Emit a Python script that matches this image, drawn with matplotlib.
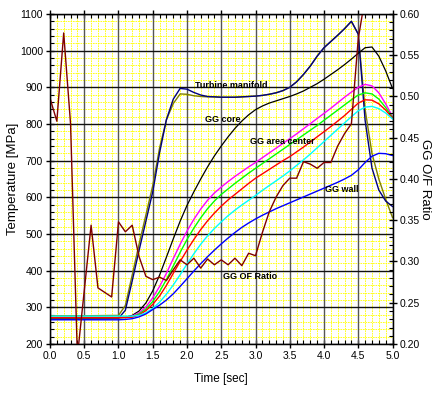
import matplotlib
matplotlib.use("Agg")
import matplotlib.pyplot as plt
from matplotlib.ticker import MultipleLocator

plt.rcParams["font.family"] = ["Liberation Sans", "DejaVu Sans"]

# time grid for the temperature curves [sec]
time = [0.0, 0.5, 1.0, 1.1, 1.2, 1.3, 1.4, 1.5, 1.6, 1.7, 1.8, 1.9,
        2.0, 2.1, 2.2, 2.3, 2.4, 2.5, 2.6, 2.7, 2.8, 2.9,
        3.0, 3.1, 3.2, 3.3, 3.4, 3.5, 3.6, 3.7, 3.8, 3.9,
        4.0, 4.1, 4.2, 4.3, 4.4, 4.5, 4.6, 4.7, 4.8, 4.9, 5.0]

turbine_manifold = [268, 268, 270, 292, 372, 455, 535, 615, 722, 812, 868, 897,
                    895, 886, 879, 875, 874, 873, 873, 873, 874, 875,
                    876, 878, 881, 885, 891, 900, 915, 935, 958, 985,
                    1008, 1025, 1042, 1060, 1080, 1045, 810, 680, 620, 590, 575]
turbine_inlet = [277, 277, 278, 305, 388, 472, 552, 632, 735, 812, 856, 882,
                 881, 877, 875, 874, 874, 873, 873, 873, 874, 875,
                 876, 878, 881, 885, 891, 900, 915, 935, 958, 985,
                 1008, 1025, 1042, 1060, 1080, 1045, 840, 720, 650, 595, 545]
gg_core = [270, 270, 271, 273, 278, 290, 312, 345, 388, 437, 487, 535,
           578, 615, 650, 683, 713, 740, 765, 788, 808, 825,
           839, 849, 857, 863, 869, 875, 882, 890, 900, 910,
           922, 935, 948, 962, 977, 993, 1008, 1010, 985, 945, 897]
gg_magenta = [272, 272, 272, 273, 276, 285, 301, 326, 357, 393, 433, 472,
              508, 540, 568, 592, 612, 628, 643, 657, 670, 683,
              695, 708, 721, 734, 747, 760, 773, 787, 801, 815,
              829, 843, 858, 873, 887, 900, 908, 904, 885, 855, 820]
gg_green = [272, 272, 272, 272, 274, 282, 295, 316, 343, 376, 413, 450,
            485, 516, 544, 569, 590, 608, 623, 638, 652, 666,
            679, 692, 705, 718, 731, 744, 757, 770, 783, 796,
            810, 824, 838, 852, 866, 879, 885, 882, 868, 845, 818]
gg_red = [272, 272, 272, 272, 273, 279, 291, 308, 331, 360, 393, 425,
          456, 485, 512, 536, 557, 576, 593, 608, 623, 638,
          652, 664, 676, 688, 700, 711, 724, 737, 751, 765,
          779, 793, 808, 823, 840, 857, 866, 865, 855, 838, 816]
gg_cyan = [276, 276, 276, 276, 276, 278, 285, 297, 314, 336, 361, 389,
           418, 446, 472, 495, 515, 533, 550, 565, 579, 592,
           605, 619, 632, 645, 658, 672, 687, 702, 718, 735,
           752, 769, 786, 803, 820, 836, 846, 848, 842, 830, 814]
gg_wall = [266, 266, 266, 267, 269, 274, 282, 294, 306, 320, 337, 357,
           378, 399, 419, 438, 456, 473, 489, 504, 518, 530,
           541, 551, 560, 569, 577, 585, 593, 601, 609, 617,
           625, 633, 641, 650, 660, 675, 695, 712, 720, 719, 714]

# GG O/F ratio (right axis)
ratio_time = [0.0, 0.1, 0.2, 0.3, 0.4, 0.6, 0.7, 0.9, 1.0, 1.1, 1.2, 1.3,
              1.4, 1.5, 1.6, 1.7, 1.8, 1.9, 2.0, 2.1, 2.2, 2.3, 2.4, 2.5,
              2.6, 2.7, 2.8, 2.9, 3.0, 3.1, 3.2, 3.3, 3.4, 3.5, 3.6, 3.7,
              3.8, 3.9, 4.0, 4.1, 4.2, 4.3, 4.4, 4.5, 4.6]
of_ratio = [0.498, 0.470, 0.577, 0.467, 0.185, 0.344, 0.268, 0.257, 0.348,
            0.336, 0.344, 0.306, 0.282, 0.278, 0.281, 0.277, 0.290, 0.302,
            0.296, 0.304, 0.292, 0.303, 0.296, 0.302, 0.296, 0.304, 0.295,
            0.310, 0.307, 0.335, 0.360, 0.378, 0.392, 0.401, 0.401, 0.421,
            0.418, 0.413, 0.420, 0.420, 0.440, 0.455, 0.467, 0.570, 0.620]

labels = ["Turbine manifold", "GG core", "GG area center", "GG wall", "GG OF Ratio"]
label_x = [2.12, 2.27, 2.92, 4.02, 2.53]
label_y = [906, 811, 752, 620, 385]

fig = plt.figure(figsize=(4.34, 3.94), dpi=100)
ax = fig.add_axes([0.1152, 0.1269, 0.7892, 0.8376])

ax.set_xlim(0, 5)
ax.set_ylim(200, 1100)
ax.xaxis.set_major_locator(MultipleLocator(0.5))
ax.xaxis.set_minor_locator(MultipleLocator(0.1))
ax.yaxis.set_major_locator(MultipleLocator(100))
ax.yaxis.set_minor_locator(MultipleLocator(20))

# yellow minor grid, major lines drawn on top of it
ax.grid(which="minor", color="#ffff00", linestyle=(0, (2, 1)), linewidth=0.6)
ax.set_axisbelow(True)
for xv in ax.get_xticks():
  ax.axvline(xv, color="#555555", lw=1.0, zorder=1)
for yv in ax.get_yticks():
  ax.axhline(yv, color="#111111", lw=1.0, zorder=1)

ax.plot(time, turbine_inlet, color="#808000", lw=1.0)
ax.plot(time, turbine_manifold, color="#000080", lw=1.0)
ax.plot(time, gg_core, color="black", lw=0.9)
ax.plot(time, gg_magenta, color="#ff00ff", lw=1.0)
ax.plot(time, gg_green, color="#00ff00", lw=1.0)
ax.plot(time, gg_red, color="#ff0000", lw=1.0)
ax.plot(time, gg_cyan, color="#00ffff", lw=1.0)
ax.plot(time, gg_wall, color="#0000ff", lw=1.0)

for s, x, y in zip(labels, label_x, label_y):
  ax.text(x, y, s, fontsize=6.5, fontweight="bold", va="center", ha="left")

ax.tick_params(which="major", direction="inout", length=6, width=1, labelsize=7.5,
               top=True, right=False, pad=2)
ax.tick_params(which="minor", direction="in", length=3, width=0.8, top=True)
ax.set_xticklabels(["%.1f" % v for v in ax.get_xticks()])
ax.set_xlabel("Time [sec]", fontsize=8.5, labelpad=9)
ax.set_ylabel("Temperature [MPa]", fontsize=9.5)
ax.yaxis.label.set_va("center")
ax.yaxis.set_label_coords(-0.108, 0.5)
for sp in ax.spines.values():
  sp.set_linewidth(1.0)

ax2 = ax.twinx()
ax2.set_ylim(0.20, 0.60)
ax2.yaxis.set_major_locator(MultipleLocator(0.05))
ax2.yaxis.set_minor_locator(MultipleLocator(0.01))
ax2.plot(ratio_time, of_ratio, color="#800000", lw=1.0)
ax2.tick_params(which="major", direction="inout", length=6, width=1, labelsize=7.5, pad=2)
ax2.tick_params(which="minor", direction="in", length=3, width=0.8)
ax2.set_yticklabels(["%.2f" % v for v in ax2.get_yticks()])
ax2.set_ylabel("GG O/F Ratio", fontsize=9.5, rotation=-90)
ax2.yaxis.label.set_va("center")
ax2.yaxis.set_label_coords(1.096, 0.5)

fig.savefig("out.png", dpi=100)
